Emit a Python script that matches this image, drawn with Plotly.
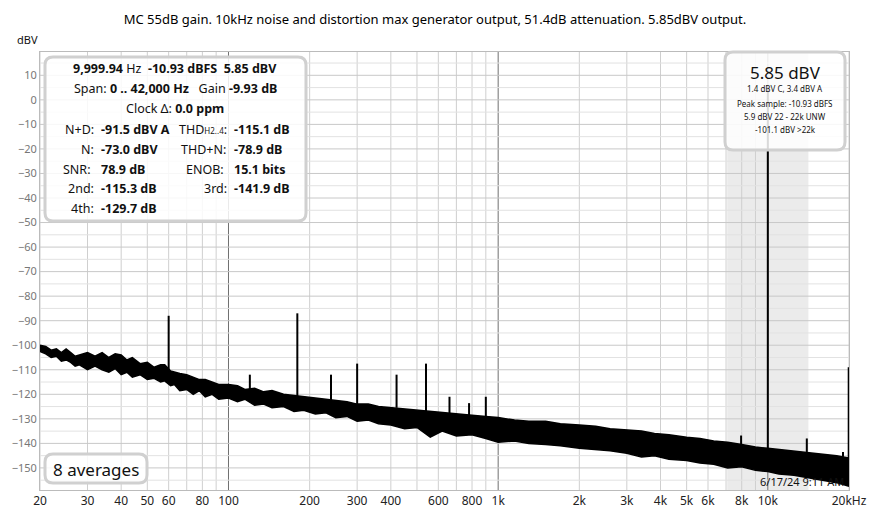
import plotly.graph_objects as go

# noise floor envelope (hand-estimated jaggedness)
floor_freq = [20, 21, 22, 23, 24, 25, 26, 27, 28, 30, 32, 34, 36, 38, 40, 42, 44, 47, 50, 53, 56,
              58, 61, 63, 66, 70, 74, 78, 82, 87, 92, 100, 108, 115, 125, 135, 145, 160, 175, 190,
              210, 230, 250, 275, 300, 330, 360, 400, 450, 500, 560, 620, 700, 800, 900, 1000, 1150,
              1300, 1500, 1700, 2000, 2300, 2600, 3000, 3400, 3800, 4300, 5000, 5600, 6300, 7100,
              8000, 9000, 10000, 11000, 12500, 14000, 16000, 18000, 20000]
floor_top = [-100, -100.5, -102, -101.5, -103, -101.5, -103, -104.5, -104, -103, -104.5, -103, -105,
             -103.5, -104, -106, -105, -107.5, -107, -109, -108, -108, -110.5, -111, -111.5, -112,
             -113, -114, -114, -115, -116, -116, -116.5, -118, -117.5, -119, -118.5, -120, -120.5,
             -121, -121.5, -122, -122.5, -123, -124, -124, -125, -125.5, -126, -126.5, -127, -127.5,
             -128, -128.5, -129, -129.5, -130.5, -131, -131, -132, -132.5, -133, -134, -134.5, -135,
             -136, -136.5, -137.5, -138, -139, -139.5, -140.5, -141.5, -142, -142.5, -143, -143.5,
             -144.5, -145, -146]
floor_bot = [-102.5, -103.5, -105, -104.5, -106.5, -106, -107, -108.5, -108, -110, -108.5, -110,
             -111, -109.5, -112, -111, -113, -112, -114, -113.5, -115, -114.5, -116.5, -116, -118.5, -118,
             -120, -118.5, -121, -120, -122, -121.5, -123, -122, -124.5, -124, -125.5, -125, -127,
             -126.5, -128, -127.5, -129.5, -129, -131, -130.5, -132, -132.5, -134, -133.5, -137.5,
             -135, -137, -136.5, -138, -139.5, -139, -140, -140.5, -141, -142, -142.5, -143, -144,
             -145.5, -145, -146.5, -147, -148, -148.5, -150, -149.5, -151, -151.5, -152.5, -153,
             -154, -155, -156, -157.5]

# spurs and harmonics
spur_freq = [60, 120, 180, 240, 300, 420, 540, 660, 780, 900, 7960, 10000, 13950, 19000, 19950]
spur_top = [-88, -112, -87, -112, -107.5, -112, -107.5, -121, -123.6, -121, -136.8, 5.85, -138, -143.5, -109]
spur_base = [-110, -118, -121, -123, -124, -125.5, -127, -128, -128.5, -129, -141, -142, -143.5, -145.5, -146]

shade_band = [7071, 14142]

x_ticks = [20, 30, 40, 50, 60, 80, 100, 200, 300, 400, 600, 800, 1000, 2000, 3000, 4000,
           5000, 6000, 8000, 10000, 20000]
x_tick_text = ["20", "30", "40", "50", "60", "80", "100", "200", "300", "400", "600", "800",
               "1k", "2k", "3k", "4k", "5k", "6k", "8k", "10k", "20kHz"]
y_ticks = list(range(10, -151, -10))

W, H = 870, 515
L, R, T, B = 40, 21, 52, 25
pw, ph = W - L - R, H - T - B


def px(x):
    return (x - L) / pw


def py(y):
    return (H - B - y) / ph


fig = go.Figure()

fig.add_vrect(x0=shade_band[0], x1=shade_band[1], fillcolor="#ebebeb", line_width=0, layer="below")

# grid lines, every integer step per decade
grid_x = []
for d in [10, 100, 1000, 10000]:
    for m in range(1, 10):
        f = d * m
        if 20 <= f <= 20000:
            grid_x.append(f)
for f in grid_x:
    dark = f in (100, 1000, 10000)
    fig.add_shape(type="line", x0=f, x1=f, y0=0, y1=1, xref="x", yref="paper",
                  line=dict(color="#707070" if dark else "#cfcfcf", width=1), layer="below")
for v in range(15, -160, -5):
    fig.add_shape(type="line", x0=0, x1=1, y0=v, y1=v, xref="paper", yref="y",
                  line=dict(color="#c8c8c8" if v % 10 == 0 else "#e2e2e2", width=1), layer="below")

fig.add_trace(go.Scatter(x=floor_freq, y=floor_bot, mode="lines",
                         line=dict(color="black", width=1.5), hoverinfo="skip"))
fig.add_trace(go.Scatter(x=floor_freq, y=floor_top, mode="lines", fill="tonexty",
                         fillcolor="black", line=dict(color="black", width=1.5), hoverinfo="skip"))

sx, sy = [], []
for f, t, b in zip(spur_freq, spur_top, spur_base):
    sx += [f, f, None]
    sy += [b, t, None]
fig.add_trace(go.Scatter(x=sx, y=sy, mode="lines", line=dict(color="black", width=2), hoverinfo="skip"))

fig.update_layout(
    width=W, height=H, showlegend=False,
    margin=dict(l=L, r=R, t=T, b=B, autoexpand=False),
    plot_bgcolor="white", paper_bgcolor="white",
    font=dict(family="Noto Sans", color="black", size=12),
    title=dict(text="MC 55dB gain. 10kHz noise and distortion max generator output, 51.4dB attenuation. 5.85dBV output.",
               x=0.5, y=0.972, xanchor="center", font=dict(size=13)),
    xaxis=dict(type="log", range=[1.30103, 4.30103], tickvals=x_ticks, ticktext=x_tick_text,
               showgrid=False, zeroline=False, ticks="", tickfont=dict(size=12, color="#222"),
               showline=True, linecolor="#bbbbbb", mirror=True, automargin=False),
    yaxis=dict(range=[-159, 19.5], tickvals=y_ticks, showgrid=False, zeroline=False, ticks="",
               tickfont=dict(size=11, color="#777"), showline=True, linecolor="#bbbbbb", mirror=True,
               automargin=False),
)

# rounded boxes


def rbox(x0, y0, x1, y1, r=8):
    a0, a1 = px(x0), px(x1)
    b0, b1 = py(y1), py(y0)
    rx, ry = r / pw, r / ph
    path = (f"M {a0+rx},{b0} L {a1-rx},{b0} Q {a1},{b0} {a1},{b0+ry} L {a1},{b1-ry} "
            f"Q {a1},{b1} {a1-rx},{b1} L {a0+rx},{b1} Q {a0},{b1} {a0},{b1-ry} "
            f"L {a0},{b0+ry} Q {a0},{b0} {a0+rx},{b0} Z")
    fig.add_shape(type="path", path=path, xref="paper", yref="paper",
                  fillcolor="rgba(255,255,255,0.85)", line=dict(color="#d0d0d0", width=3))


rbox(45, 57, 306, 221)
rbox(725, 52, 845, 150)
rbox(45, 454, 147, 483)


def txt(x, y, s, size=12.5, anchor="center"):
    fig.add_annotation(x=px(x), y=py(y), xref="paper", yref="paper", text=s, showarrow=False,
                       xanchor=anchor, yanchor="middle", font=dict(size=size, color="#111"))


txt(175, 69, "<b>9,999.94</b> Hz  <b>-10.93 dBFS  5.85 dBV</b>")
txt(175, 89, "Span: <b>0 .. 42,000 Hz</b>   Gain <b>-9.93 dB</b>")
txt(175, 109, "Clock Δ: <b>0.0 ppm</b>")
left_rows = [("N+D: ", "-91.5 dBV A", 129), ("N: ", "-73.0 dBV", 149), ("SNR:  ", "78.9 dB", 169),
             ("2nd: ", "-115.3 dB", 189), ("4th: ", "-129.7 dB", 208)]
for lab, val, y in left_rows:
    txt(99, y, lab, anchor="right")
    txt(99, y, f"<b>{val}</b>", anchor="left")
right_rows = [("THD<span style='font-size:8px'>H2..4</span>: ", "-115.1 dB", 129), ("THD+N: ", "-78.9 dB", 149),
              ("ENOB:  ", "15.1 bits", 169), ("3rd: ", "-141.9 dB", 189)]
for lab, val, y in right_rows:
    txt(232, y, lab, anchor="right")
    txt(232, y, f"<b>{val}</b>", anchor="left")

txt(785, 72, "5.85 dBV", size=17)
txt(785, 89, "1.4 dBV C, 3.4 dBV A", size=8)
txt(785, 103, "Peak sample: -10.93 dBFS", size=8)
txt(785, 116, "5.9 dBV 22 - 22k UNW", size=8)
txt(785, 129, "-101.1 dBV >22k", size=8)
txt(96, 469, "8 averages", size=17)
txt(846, 481, "6/17/24 9:11 AM", size=11, anchor="right")
txt(27, 40, "dBV", size=11)

fig.write_html("out.html", config={"displayModeBar": False},
               post_script="document.body.style.margin='0';")
